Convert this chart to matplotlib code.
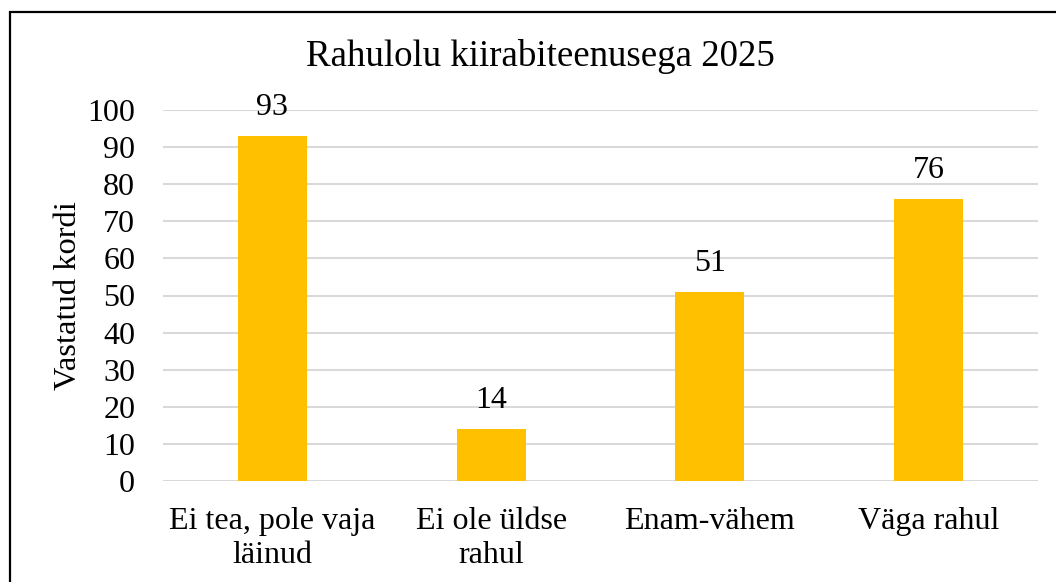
import matplotlib.pyplot as plt
from matplotlib.patches import Rectangle

categories = ['Ei tea, pole vaja\nläinud', 'Ei ole üldse\nrahul', 'Enam-vähem', 'Väga rahul']
values = [93, 14, 51, 76]
yticks = [0, 10, 20, 30, 40, 50, 60, 70, 80, 90, 100]

plt.rcParams['font.family'] = ['Liberation Serif', 'DejaVu Serif']

W, H = 1056, 582
fig = plt.figure(figsize=(W / 100, H / 100), dpi=100)
ax = fig.add_axes([163 / W, 1 - 481 / H, (1038 - 163) / W, (481 - 110) / H])

x = list(range(len(categories)))
bars = ax.bar(x, values, width=0.315, color='#FFC000', zorder=3)
for b, v in zip(bars, values):
    ax.annotate(str(v), (b.get_x() + b.get_width() / 2, v), xytext=(0, 10),
                textcoords='offset points', ha='center', va='bottom', fontsize=23)

ax.set_xlim(-0.5, len(categories) - 0.5)
ax.set_ylim(0, 100)
ax.set_yticks(yticks)
ax.set_xticks(x)
ax.set_xticklabels(categories, fontsize=23, linespacing=1.19)
ax.tick_params(axis='y', length=0, pad=20, labelsize=23)
ax.tick_params(axis='x', length=0, pad=19)
ax.grid(axis='y', color='#D9D9D9', linewidth=1.5, zorder=0)
for s in ax.spines.values():
    s.set_visible(False)

ax.set_ylabel('Vastatud kordi', fontsize=23.4, labelpad=3)
fig.text(540 / W, 1 - 57 / H, 'Rahulolu kiirabiteenusega 2025', ha='center', va='center', fontsize=26.6)

# chart border (only left/top visible in crop)
fig.patches.append(Rectangle((10 / W, -0.1), 1.2, 1 - 12 / H + 0.1, transform=fig.transFigure,
                             fill=False, edgecolor='black', linewidth=1.6))

fig.savefig('out.png', dpi=100)
